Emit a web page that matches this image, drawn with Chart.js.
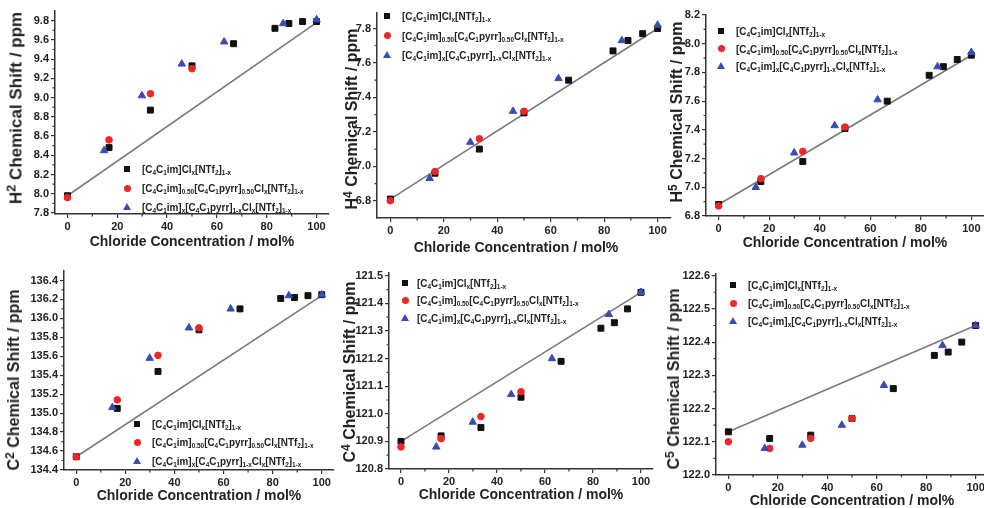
<!DOCTYPE html>
<html>
<head>
<meta charset="utf-8">
<script src="https://cdn.jsdelivr.net/npm/chart.js@4.4.0/dist/chart.umd.min.js"></script>
<style>
html, body { margin: 0; padding: 0; background: #fff; overflow: hidden; width: 984px; height: 508px; }
.panel { position: absolute; }
.ytitle, .xtitle { position: absolute; font: bold 16px 'Liberation Sans', Arial, sans-serif; color: #222; white-space: nowrap; line-height: 1; }
.ytitle { transform: translate(-50%, -50%) rotate(-90deg); }
.xtitle { font-size: 14px; transform: translate(-50%, -50%); }
.ytitle sup { font-size: 75%; vertical-align: 0.45em; line-height: 0; }
.row { position: absolute; white-space: nowrap; font: bold 11px 'Liberation Sans', Arial, sans-serif; color: #222; line-height: 1;
       transform-origin: left center; transform: translateY(-50%) scaleX(0.9); }
.row sub { font-size: 65%; vertical-align: -0.3em; line-height: 0; }
.mk { position: absolute; }
</style>
</head>
<body>
<script>
// x positions (chloride concentration, mol%)
var xIm   = [0, 16.7, 33.3, 50, 66.7, 83.3, 88.9, 94.4, 100];
var xMix  = [0, 16.7, 33.3, 50];
var xPyrr = [14.7, 29.9, 45.9, 62.9, 86.6, 100];
var xFit  = [0, 100];
var xTicks = [0, 20, 40, 60, 80, 100];

// H2
var h2Im   = [7.98, 8.48, 8.87, 9.33, 9.56, 9.72, 9.77, 9.79, 9.79];
var h2Mix  = [7.96, 8.56, 9.04, 9.30];
var h2Pyrr = [8.45, 9.02, 9.35, 9.58, 9.77, 9.81];
var h2Fit  = [7.98, 9.78];
var h2Ticks = [7.8, 8.0, 8.2, 8.4, 8.6, 8.8, 9.0, 9.2, 9.4, 9.6, 9.8];
// H4
var h4Im   = [6.81, 6.96, 7.10, 7.31, 7.50, 7.67, 7.73, 7.77, 7.80];
var h4Mix  = [6.80, 6.97, 7.16, 7.32];
var h4Pyrr = [6.93, 7.14, 7.32, 7.51, 7.73, 7.82];
var h4Fit  = [6.81, 7.80];
var h4Ticks = [6.8, 7.0, 7.2, 7.4, 7.6, 7.8];
// H5
var h5Im   = [6.88, 7.04, 7.18, 7.41, 7.60, 7.78, 7.84, 7.89, 7.92];
var h5Mix  = [6.87, 7.06, 7.25, 7.42];
var h5Pyrr = [7.00, 7.24, 7.43, 7.61, 7.84, 7.94];
var h5Fit  = [6.88, 7.92];
var h5Ticks = [6.8, 7.0, 7.2, 7.4, 7.6, 7.8, 8.0, 8.2];
// C2
var c2Im   = [134.54, 135.05, 135.44, 135.88, 136.10, 136.21, 136.22, 136.24, 136.25];
var c2Mix  = [134.54, 135.14, 135.61, 135.90];
var c2Pyrr = [135.06, 135.58, 135.90, 136.10, 136.24, 136.25];
var c2Fit  = [134.54, 136.24];
var c2Ticks = [134.4, 134.6, 134.8, 135.0, 135.2, 135.4, 135.6, 135.8, 136.0, 136.2, 136.4];
// C4
var c4Im   = [120.90, 120.92, 120.95, 121.06, 121.19, 121.31, 121.33, 121.38, 121.44];
var c4Mix  = [120.88, 120.91, 120.99, 121.08];
var c4Pyrr = [120.88, 120.97, 121.07, 121.20, 121.36, 121.44];
var c4Fit  = [120.90, 121.44];
var c4Ticks = [120.8, 120.9, 121.0, 121.1, 121.2, 121.3, 121.4, 121.5];
// C5
var c5Im   = [122.13, 122.11, 122.12, 122.17, 122.26, 122.36, 122.37, 122.40, 122.45];
var c5Mix  = [122.10, 122.08, 122.11, 122.17];
var c5Pyrr = [122.08, 122.09, 122.15, 122.27, 122.39, 122.45];
var c5Fit  = [122.13, 122.45];
var c5Ticks = [122.0, 122.1, 122.2, 122.3, 122.4, 122.5, 122.6];

var seriesNames = [
  '[C<sub>4</sub>C<sub>1</sub>im]Cl<sub>x</sub>[NTf<sub>2</sub>]<sub>1-x</sub>',
  '[C<sub>4</sub>C<sub>1</sub>im]<sub>0.50</sub>[C<sub>4</sub>C<sub>1</sub>pyrr]<sub>0.50</sub>Cl<sub>x</sub>[NTf<sub>2</sub>]<sub>1-x</sub>',
  '[C<sub>4</sub>C<sub>1</sub>im]<sub>x</sub>[C<sub>4</sub>C<sub>1</sub>pyrr]<sub>1-x</sub>Cl<sub>x</sub>[NTf<sub>2</sub>]<sub>1-x</sub>'
];
var xTitle = 'Chloride Concentration / mol%';

var black = '#111111', red = '#ee2626', blue = '#3a4cb2', axisCol = '#333333';

// box = plot area [left, top, right, bottom], yt = [cx, cy, size], xt = [cx, cy], leg = [markerX, textX, firstRowY, rowGap]
var panels = [
  {nuc: 'H', n: '2', box: [55, 11, 329, 214], y: [7.79, 9.9], ticks: h2Ticks, d: [h2Im, h2Mix, h2Pyrr, h2Fit], yt: [16, 108, 17], xt: [192, 241], leg: [127, 142, 169, 19]},
  {nuc: 'H', n: '4', box: [377, 13, 671, 218], y: [6.7, 7.89], ticks: h4Ticks, d: [h4Im, h4Mix, h4Pyrr, h4Fit], yt: [352, 119, 16], xt: [516, 247], leg: [387, 402, 16, 19.5]},
  {nuc: 'H', n: '5', box: [706, 15, 984, 216], y: [6.8, 8.2], ticks: h5Ticks, d: [h5Im, h5Mix, h5Pyrr, h5Fit], yt: [677, 112, 16], xt: [845, 242], leg: [721, 736, 31, 17.7]},
  {nuc: 'C', n: '2', box: [64, 271, 334, 470], y: [134.4, 136.5], ticks: c2Ticks, d: [c2Im, c2Mix, c2Pyrr, c2Fit], yt: [14, 380, 16], xt: [199, 495], leg: [137, 152, 424, 18.4]},
  {nuc: 'C', n: '4', box: [389, 273, 653, 469], y: [120.8, 121.51], ticks: c4Ticks, d: [c4Im, c4Mix, c4Pyrr, c4Fit], yt: [350, 372, 16], xt: [521, 494], leg: [405, 417, 283, 17.4]},
  {nuc: 'C', n: '5', box: [716, 274, 988, 475], y: [122.0, 122.605], ticks: c5Ticks, d: [c5Im, c5Mix, c5Pyrr, c5Fit], yt: [674, 379, 16], xt: [852, 500], leg: [733, 748, 285, 18]}
];

var minorTicks = {
  id: 'minorTicks',
  afterDraw: function(chart, args, opts) {
    var ctx = chart.ctx, xs = chart.scales.x, ys = chart.scales.y;
    ctx.save();
    ctx.strokeStyle = axisCol;
    ctx.lineWidth = 1.2;
    ctx.beginPath();
    opts.xm.forEach(function(v) {
      var px = xs.getPixelForValue(v);
      ctx.moveTo(px, ys.bottom); ctx.lineTo(px, ys.bottom + 2.5);
    });
    opts.ym.forEach(function(v) {
      var py = ys.getPixelForValue(v);
      ctx.moveTo(xs.left, py); ctx.lineTo(xs.left - 2.5, py);
    });
    ctx.stroke();
    ctx.restore();
  }
};

function pts(xs, ys) {
  return xs.map(function(x, i) { return {x: x, y: ys[i]}; });
}
function mids(arr) {
  var out = [];
  for (var i = 0; i < arr.length - 1; i++) out.push((arr[i] + arr[i + 1]) / 2);
  return out;
}

var WY = 50, PT = 10, PR = 6, HX = 26;

panels.forEach(function(p, k) {
  var L = p.box[0], T = p.box[1], R = p.box[2], B = p.box[3];
  var div = document.createElement('div');
  div.className = 'panel';
  div.style.left = (L - WY) + 'px';
  div.style.top = (T - PT) + 'px';
  div.style.width = (R - L + WY + PR) + 'px';
  div.style.height = (B - T + PT + HX) + 'px';
  var cv = document.createElement('canvas');
  div.appendChild(cv);
  document.body.appendChild(div);

  var tickFont = {family: "'Liberation Sans', Arial, sans-serif", size: 11, weight: 'bold'};

  new Chart(cv, {
    type: 'scatter',
    data: {
      datasets: [
        {data: pts(xIm, p.d[0]), pointStyle: 'rect', pointRadius: 4.2, backgroundColor: black, borderColor: black, borderWidth: 1, order: 3, clip: false},
        {data: pts(xMix, p.d[1]), pointStyle: 'circle', pointRadius: 3.3, backgroundColor: red, borderColor: red, borderWidth: 1, order: 2, clip: false},
        {data: pts(xPyrr, p.d[2]), pointStyle: 'triangle', pointRadius: 4.3, backgroundColor: blue, borderColor: blue, borderWidth: 1, order: 1, clip: false},
        {data: pts(xFit, p.d[3]), showLine: true, pointRadius: 0, borderColor: '#7a7a7a', borderWidth: 1.6, order: 4}
      ]
    },
    options: {
      animation: false,
      responsive: true,
      maintainAspectRatio: false,
      layout: {padding: {top: PT, right: PR, left: 0, bottom: 0}},
      plugins: {
        legend: {display: false},
        tooltip: {enabled: false},
        minorTicks: {xm: mids(xTicks), ym: mids(p.ticks)}
      },
      scales: {
        x: {
          type: 'linear', min: -5, max: 105,
          afterBuildTicks: function(s) { s.ticks = xTicks.map(function(v) { return {value: v}; }); },
          afterFit: function(s) { s.height = HX; },
          grid: {drawOnChartArea: false, drawTicks: true, tickLength: 4, color: axisCol, lineWidth: 1.2},
          border: {display: true, color: axisCol, width: 1.5},
          ticks: {font: tickFont, color: '#222', padding: 2, maxRotation: 0}
        },
        y: {
          type: 'linear', min: p.y[0], max: p.y[1],
          afterBuildTicks: function(s) { s.ticks = p.ticks.map(function(v) { return {value: v}; }); },
          afterFit: function(s) { s.width = WY; },
          grid: {drawOnChartArea: false, drawTicks: true, tickLength: 4, color: axisCol, lineWidth: 1.2},
          border: {display: true, color: axisCol, width: 1.5},
          ticks: {font: tickFont, color: '#222', padding: 2, callback: function(v) { return Number(v).toFixed(1); }}
        }
      }
    },
    plugins: [minorTicks]
  });

  // axis titles
  var yt = document.createElement('div');
  yt.className = 'ytitle';
  yt.style.left = p.yt[0] + 'px';
  yt.style.top = p.yt[1] + 'px';
  yt.style.fontSize = p.yt[2] + 'px';
  yt.innerHTML = p.nuc + '<sup>' + p.n + '</sup> Chemical Shift / ppm';
  document.body.appendChild(yt);

  var xt = document.createElement('div');
  xt.className = 'xtitle';
  xt.style.left = p.xt[0] + 'px';
  xt.style.top = p.xt[1] + 'px';
  xt.textContent = xTitle;
  document.body.appendChild(xt);

  // legend
  seriesNames.forEach(function(name, i) {
    var cy = p.leg[2] + i * p.leg[3];
    var mk = document.createElement('div');
    mk.className = 'mk';
    if (i === 0) {
      mk.style.cssText = 'left:' + (p.leg[0] - 3) + 'px;top:' + (cy - 3) + 'px;width:6px;height:6px;background:' + black;
    } else if (i === 1) {
      mk.style.cssText = 'left:' + (p.leg[0] - 3.5) + 'px;top:' + (cy - 3.5) + 'px;width:7px;height:7px;border-radius:50%;background:' + red;
    } else {
      mk.style.cssText = 'left:' + (p.leg[0] - 4) + 'px;top:' + (cy - 4) + 'px;width:0;height:0;border-left:4px solid transparent;border-right:4px solid transparent;border-bottom:7px solid ' + blue;
    }
    document.body.appendChild(mk);
    var row = document.createElement('div');
    row.className = 'row';
    row.style.left = p.leg[1] + 'px';
    row.style.top = cy + 'px';
    row.innerHTML = name;
    document.body.appendChild(row);
  });
});
</script>
</body>
</html>
